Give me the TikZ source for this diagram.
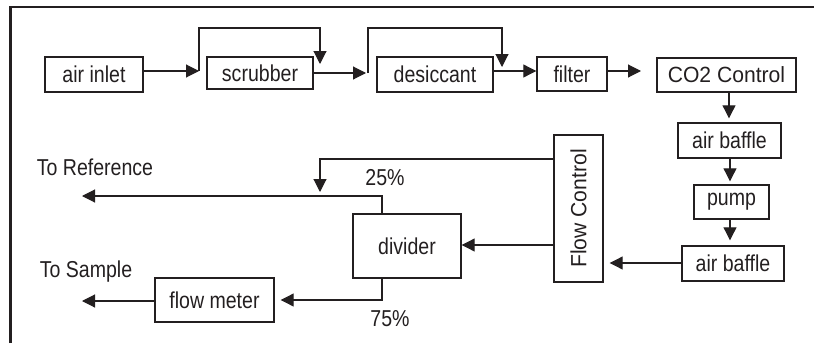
\documentclass[tikz,border=0pt]{standalone}
\usepackage{fontspec}
\setmainfont{Liberation Sans}[FakeStretch=0.85]
\newfontfamily\widefont{Liberation Sans}[FakeStretch=0.96]
\usetikzlibrary{arrows.meta}
\definecolor{ink}{HTML}{231F20}
\tikzset{
  box/.style={draw=ink, line width=1.4pt, inner sep=0pt, font=\fontsize{23}{26}\selectfont, text=ink},
  lbl/.style={inner sep=0pt, font=\fontsize{23}{26}\selectfont, text=ink},
  widetext/.style={font=\widefont\fontsize{22}{25}\selectfont},
  conn/.style={draw=ink, line width=1.1pt},
  arr/.style={conn, -{Triangle[length=13pt,width=13pt]}},
}
\begin{document}
\begin{tikzpicture}[x=1pt,y=-1pt]
\useasboundingbox (0,0) rectangle (814,343);
% frame
\draw[ink, line width=2.5pt] (10.5,343) -- (10.5,7) -- (814,7);
% nodes
\node[box, minimum width=98pt, minimum height=35pt] (ain) at (94,74.5) {air inlet};
\node[box, minimum width=106pt, minimum height=32pt] (scr) at (260,73) {scrubber};
\node[box, minimum width=116pt, minimum height=35pt] (des) at (435,74.5) {desiccant};
\node[box, minimum width=70pt, minimum height=34pt] (fil) at (572,74) {filter};
\node[box, widetext, minimum width=139pt, minimum height=34pt] (co2) at (726.5,75) {CO2 Control};
\node[box, minimum width=103pt, minimum height=35pt] (ab1) at (729.5,140.5) {air baffle};
\node[box, minimum width=75pt, minimum height=34pt] (pmp) at (731.5,202) {pump};
\node[box, minimum width=102pt, minimum height=35pt] (ab2) at (733,263.5) {air baffle};
\node[box, minimum width=49pt, minimum height=147pt] (flc) at (578.5,208.5) {};
\node[lbl, widetext, rotate=90] (flct) at (flc.center) {Flow Control};
\node[box, minimum width=108pt, minimum height=64pt] (div) at (407,246) {divider};
\node[box, minimum width=119pt, minimum height=44pt] (fm) at (214.5,300) {flow meter};
\node[lbl] (toref) at (95,167) {To Reference};
\node[lbl] (tosam) at (86,272) {To Sample};
\node[lbl] (p25) at (385,178) {25\%};
\node[lbl] (p75) at (390,319) {75\%};
% coordinates
\coordinate (b1) at (199,71);
\coordinate (b1t) at (199,28);
\coordinate (b1r) at (320,28);
\coordinate (b1e) at (320,64);
\coordinate (b2) at (368,73);
\coordinate (b2t) at (368,28);
\coordinate (b2r) at (502,28);
\coordinate (b2e) at (502,67);
\coordinate (fe) at (641,71);
\coordinate (fc1) at (320,159);
\coordinate (fc1e) at (320,192);
\coordinate (dv1) at (382,196);
\coordinate (ref) at (82,196);
\coordinate (dv2) at (382,300);
\coordinate (sam) at (82,301);
% connectors
\draw[arr] (ain.east |- b1) -- (b1);
\draw[arr] (b1) -- (b1t) -- (b1r) -- (b1e);
\draw[arr] (scr.east |- b2) -- ([xshift=-2pt]b2);
\draw[arr] (b2) -- (b2t) -- (b2r) -- (b2e);
\draw[arr] (des.east |- 0,71) -- (fil.west |- 0,71);
\draw[arr] (fil.east |- fe) -- (fe);
\draw[arr, shorten >=4pt] (co2.south -| 729,0) -- (ab1.north -| 729,0);
\draw[arr, shorten >=3pt] (ab1.south -| 730,0) -- (pmp.north -| 730,0);
\draw[arr, shorten >=5pt] (pmp.south -| 730,0) -- (ab2.north -| 730,0);
\draw[arr, shorten >=6pt] (ab2.west |- 0,263) -- (flc.east |- 0,263);
\draw[arr] (flc.west |- 0,245) -- (div.east |- 0,245);
\draw[arr] (flc.west |- fc1) -- (fc1) -- (fc1e);
\draw[arr] (div.north -| dv1) -- (dv1) -- (ref);
\draw[arr, shorten >=6pt] (div.south -| dv2) -- (dv2) -- (fm.east |- dv2);
\draw[arr] (fm.west |- sam) -- (sam);
\end{tikzpicture}
\end{document}
